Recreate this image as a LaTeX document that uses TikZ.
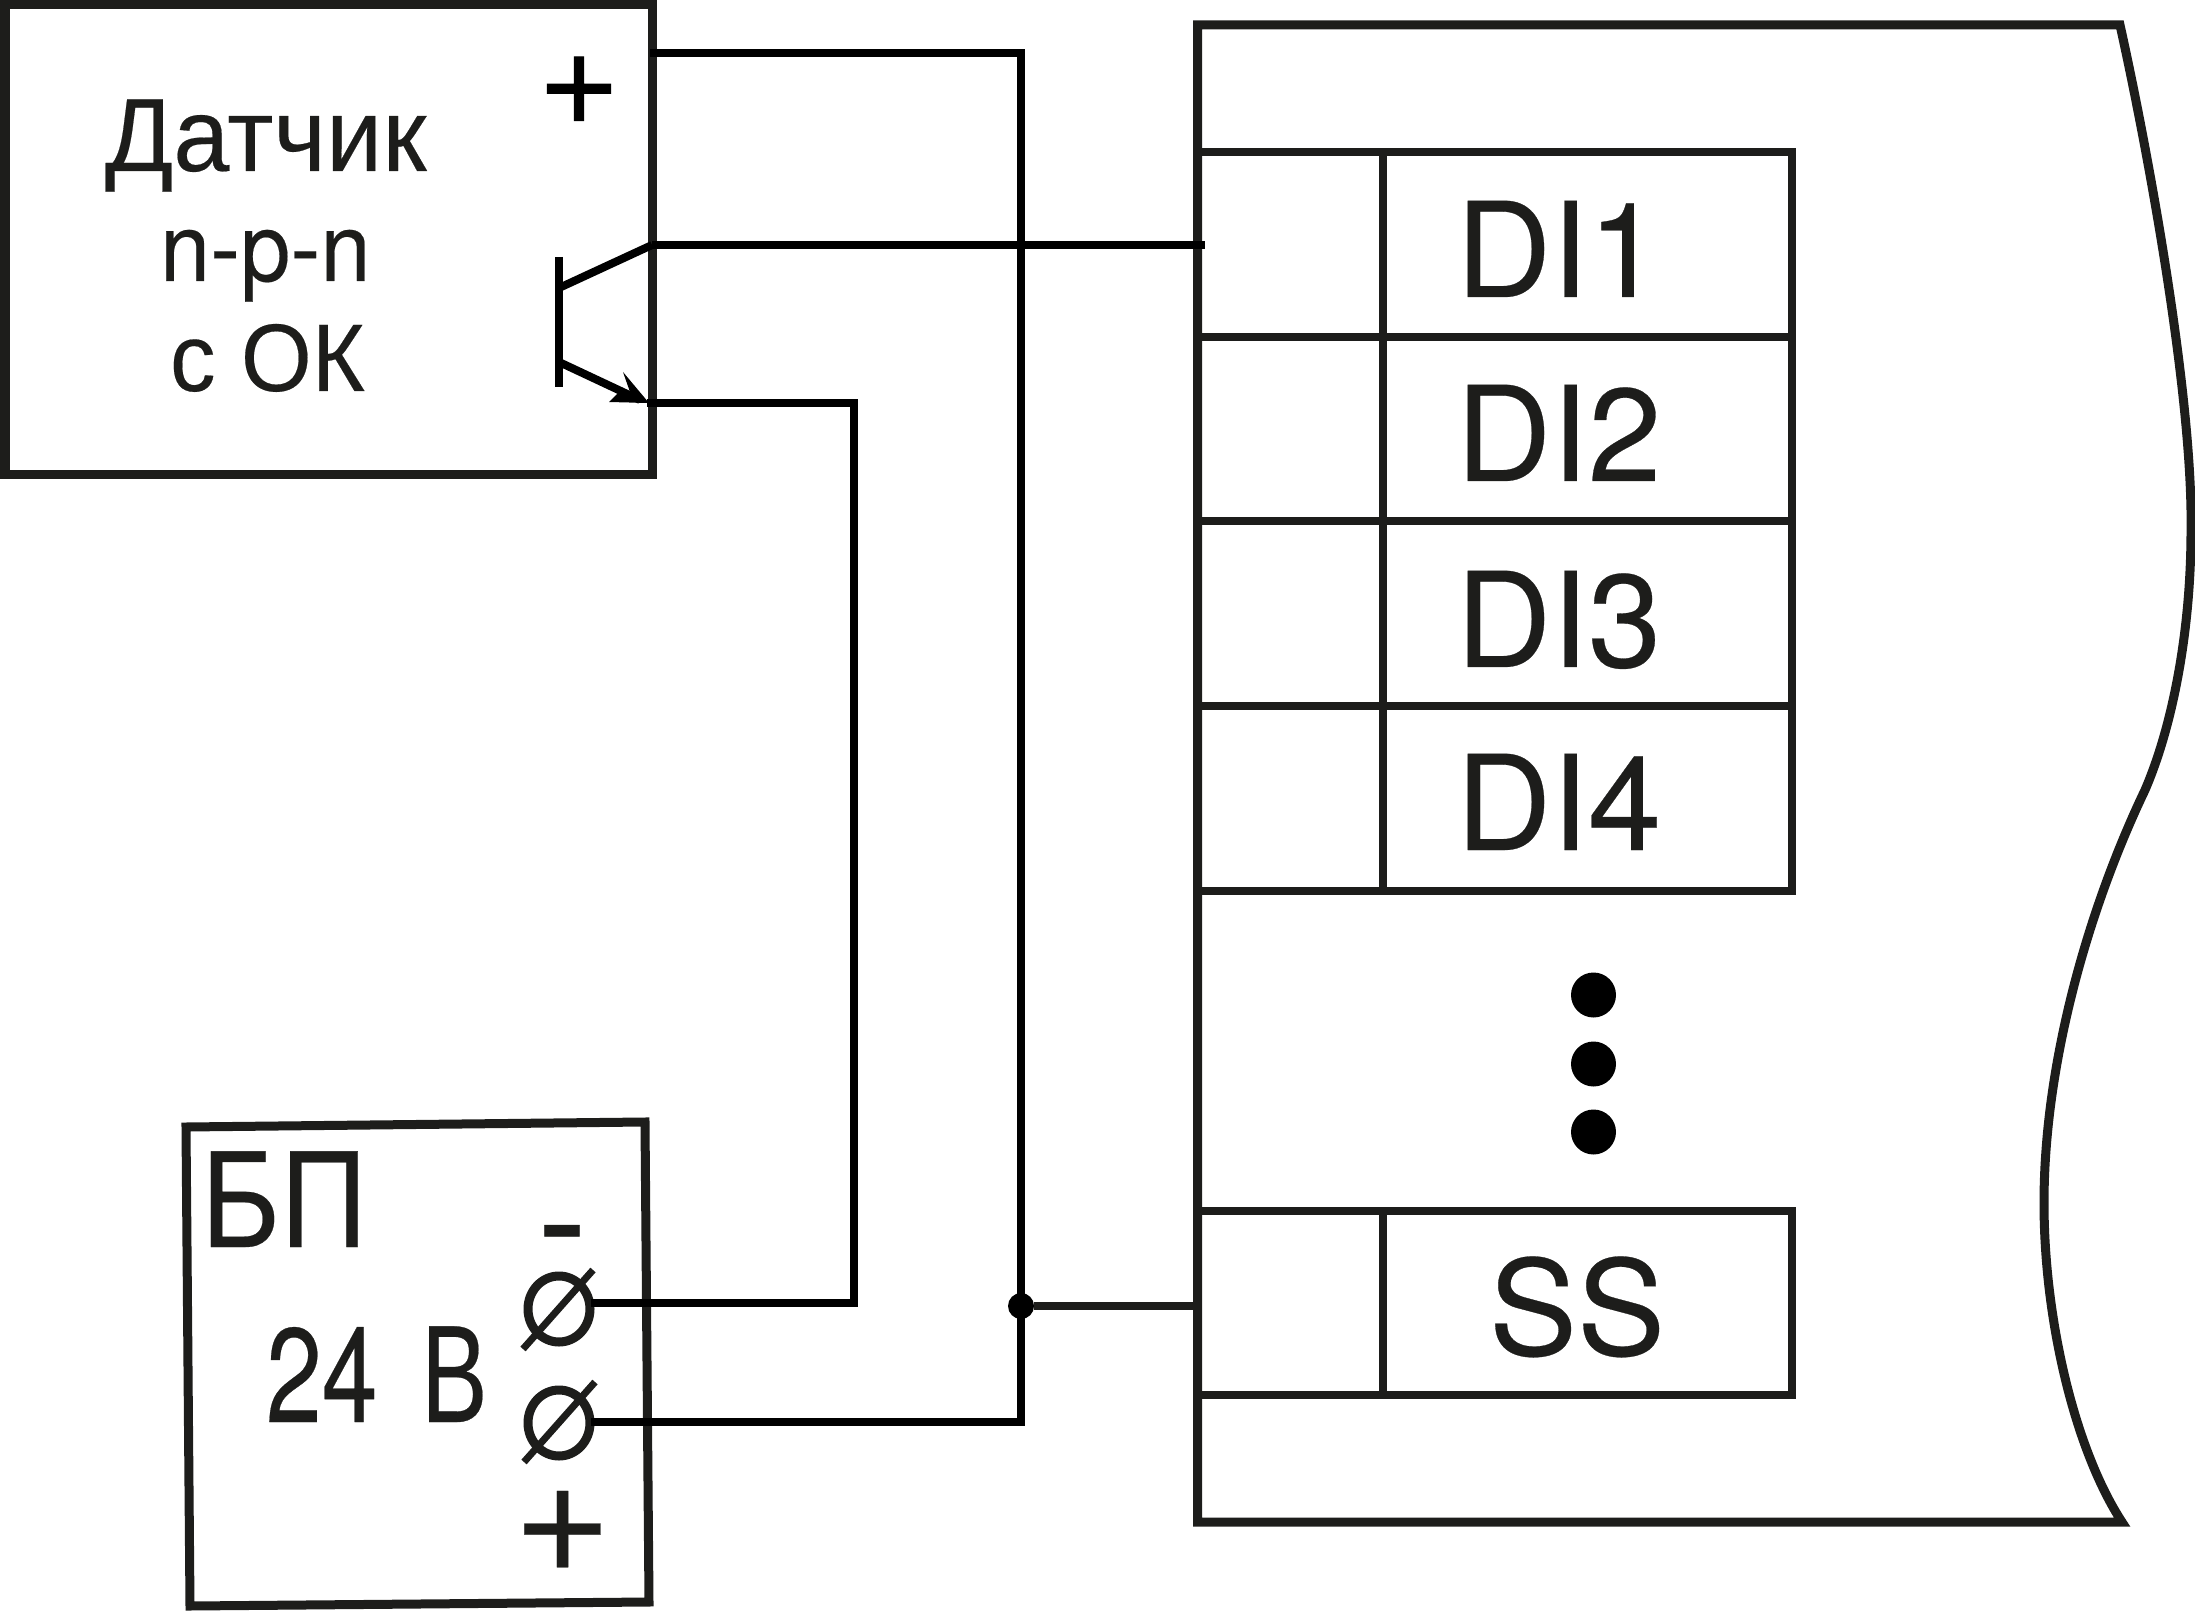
\documentclass[tikz,border=0pt]{standalone}
\usepackage{fontspec}
\setmainfont{Liberation Sans}[FakeBold=0.2]
\newfontfamily\hv{TeX Gyre Heros}[FakeBold=0.2]
\newfontfamily\heavyplus{Liberation Sans}[FakeBold=0.8]
\usetikzlibrary{shapes.geometric}
\definecolor{ink}{HTML}{1D1D1B}
\newcommand{\fs}[1]{\fontsize{#1}{#1}\selectfont}
\tikzset{
  x=0.5pt,y=-0.5pt,
  frame/.style={draw=ink,line width=4.5pt,miter limit=10},
  cell/.style={draw=ink,line width=4pt},
  wire/.style={draw=black,line width=4pt},
  lab/.style={inner sep=0pt,outer sep=0pt,anchor=base west,text=ink},
  dotn/.style={circle,fill=black,inner sep=0pt,minimum size=22.5pt},
  term/.style={ellipse,draw=ink,line width=4.5pt,inner sep=0pt,minimum width=31pt,minimum height=33pt},
  slash/.style={draw=ink,line width=3.5pt},
}
\begin{document}
\begin{tikzpicture}
\useasboundingbox (0,0) rectangle (2195,1620);
% sensor box
\node[frame,rectangle,inner sep=0pt,outer sep=0pt,minimum width=323.5pt,minimum height=235pt,anchor=north west] (sensor) at (5,5) {};
\node[lab] (dat) at (105,171) {\fs{52}\scalebox{0.97}[1]{Датчик}};
\node[lab] (npn) at (160,281) {\hv\fs{47.5}\scalebox{0.95}[1]{n-p-n}};
\node[lab] (sok) at (170,391) {\fs{48}\scalebox{0.95}[1]{с ОК}};
\node[lab,text=black] (plus1) at (541,132) {\heavyplus\fs{65}+};
% transistor
\coordinate (bt) at (559,257); \coordinate (bb) at (559,387);
\coordinate (cb) at (559,288); \coordinate (ce) at (652,245);
\coordinate (eb) at (559,362); \coordinate (ee) at (640,400);
\coordinate (eTip) at (649,403);
\draw[wire] (bt) -- (bb);
\draw[wire] (cb) -- (ce);
\draw[wire] (eb) -- (ee);
\fill[black] (eTip) -- (623,372) -- (630,392) -- (618,393) -- (609,402) -- cycle;
% power supply
\draw[frame] (186,1127) -- (645,1122) -- (649,1602) -- (190,1606) -- cycle;
\node[lab] (bp) at (201,1247) {\fs{69.5}\scalebox{0.87}[1]{БП}};
\node[lab] (v24) at (266,1422) {\hv\fs{67}\scalebox{0.75}[1]{24}};
\node[lab] (vB) at (421,1422) {\fs{69.5}\scalebox{0.72}[1]{В}};
\node[lab] (minus) at (538,1269) {\fs{72}-};
\node[lab] (plus2) at (517,1581) {\fs{78}+};
\node[term] (t1) at (559,1309) {};
\node[term] (t2) at (559,1423) {};
\coordinate (s1a) at (523,1349); \coordinate (s1b) at (593,1270);
\coordinate (s2a) at (524,1462); \coordinate (s2b) at (595,1382);
\draw[slash] (s1a) -- (s1b);
\draw[slash] (s2a) -- (s2b);
% controller outline
\draw[frame] (2120,25) .. controls (2150,160) and (2193,400) .. (2191,530)
  .. controls (2191,630) and (2173,725) .. (2145,790)
  .. controls (2090,905) and (2044,1060) .. (2044,1203)
  .. controls (2044,1320) and (2075,1450) .. (2122,1522)
  -- (1197.5,1522) -- (1197.5,25) -- cycle;
% cells
\foreach \n/\ya/\yb in {a/152/337,b/337/521,c/521/706,d/706/891,s/1211/1395}{
  \draw[cell] (1197.5,\ya) -- (1792,\ya) -- (1792,\yb) -- (1197.5,\yb);
  \draw[cell] (1383,\ya) -- (1383,\yb);
}
\node[lab] (di1) at (1456,297) {\hv\fs{66}DI1};
\node[lab] (di2) at (1456,481) {\hv\fs{66}DI2};
\node[lab] (di3) at (1456,667) {\hv\fs{66}DI3};
\node[lab] (di4) at (1456,850) {\hv\fs{66}DI4};
\node[lab] (ss) at (1489,1355) {\hv\fs{66}SS};
\node[dotn] (d1) at (1593.5,995) {};
\node[dotn] (d2) at (1593.5,1064) {};
\node[dotn] (d3) at (1593.5,1132) {};
% wiring
\coordinate (pP) at (654,53); \coordinate (pC) at (652,245); \coordinate (pE) at (651,403);
\coordinate (cDI) at (1205,245); \coordinate (cSS) at (1194,1306);
\coordinate (busT) at (1021,53); \coordinate (busB) at (1021,1422);
\coordinate (retT) at (854,403); \coordinate (retB) at (854,1303);
\node[circle,fill=black,inner sep=0pt,minimum size=13pt] (jn) at (1021,1306) {};
\draw[wire,line cap=rect] (pP) -- (busT) -- (busB) -- (t2.east |- busB);
\draw[wire] (pC) -- (cDI);
\draw[wire,line cap=rect] (pE) -- (retT) -- (retB) -- (t1.east |- retB);
\draw[cell] (jn) -- (cSS);
\end{tikzpicture}
\end{document}
